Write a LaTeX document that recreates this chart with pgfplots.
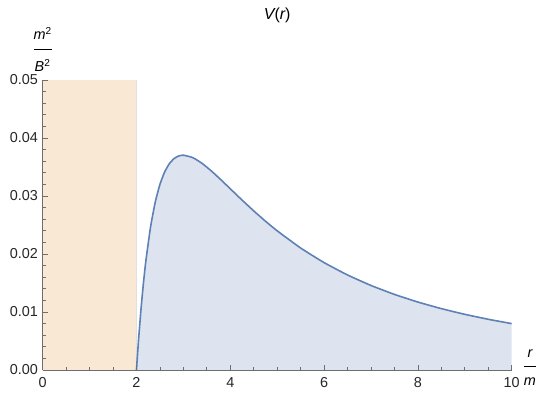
\documentclass[border=0pt]{standalone}
\usepackage{fontspec}
\setmainfont{Liberation Sans}
\usepackage{pgfplots}
\pgfplotsset{compat=1.18}
\definecolor{mline}{RGB}{94,129,181}
\definecolor{mfill}{RGB}{221,227,239}
\definecolor{mor}{RGB}{249,233,212}
\definecolor{maxis}{RGB}{110,110,110}
\begin{document}
\begin{tikzpicture}
\useasboundingbox (-32pt,-18pt) rectangle (373.75pt,277.5pt);
\begin{axis}[
  at={(0,0)}, anchor=south west,
  scale only axis, width=351.75pt, height=217.5pt,
  xmin=0, xmax=10, ymin=0, ymax=0.05,
  axis lines=left, axis line style={-, maxis, line width=0.6pt},
  axis on top,
  font=\fontsize{10.8}{12}\selectfont,
  tick label style={font=\fontsize{10.8}{12}\selectfont, color=black!85},
  /pgf/number format/assume math mode=true,
  xtick={0,2,4,6,8,10}, minor x tick num=3,
  ytick={0,0.01,0.02,0.03,0.04,0.05}, minor y tick num=4,
  yticklabel style={/pgf/number format/.cd, fixed, fixed zerofill, precision=2},
  xticklabel style={yshift=-2pt},
  scaled y ticks=false,
  tick align=inside, major tick length=3.75pt, minor tick length=2.2pt,
  tick style={maxis, line width=0.5pt},
  every axis title shift=0pt,
  title={\itshape V\upshape(\itshape r\upshape)},
  title style={at={(rel axis cs:0.5,1.207)}, anchor=base, inner sep=0pt, font=\fontsize{12}{14}\selectfont},
  xlabel={\begin{tabular}{@{}c@{}}\itshape r\\[3pt]\hline\rule{0pt}{14pt}\itshape m\end{tabular}},
  xlabel style={at={(rel axis cs:1.039,0.007)}, anchor=center, inner sep=0pt},
  ylabel={\begin{tabular}{@{}c@{}}\itshape m\upshape\textsuperscript{2}\\[3pt]\hline\rule{0pt}{17pt}\itshape B\upshape\textsuperscript{2}\end{tabular}},
  ylabel style={at={(rel axis cs:0,1.096)}, anchor=center, rotate=-90, inner sep=0pt},
  clip=false,
]
\addplot[fill=mor, draw=none] coordinates {(0,0) (0,0.05) (2,0.05) (2,0)} \closedcycle;
\addplot[draw=black!12, line width=0.6pt] coordinates {(2,0) (2,0.05)};
\addplot[fill=mfill, draw=none] coordinates {
(2,0) (2.01,0.001231) (2.02,0.002427) (2.05,0.005804) (2.1,0.010798) (2.15,0.015093)
(2.2,0.018783) (2.3,0.024657) (2.4,0.028935) (2.5,0.032) (2.6,0.034137) (2.7,0.035564)
(2.8,0.036443) (2.9,0.036902) (3.0,0.037037) (3.2,0.036621) (3.4,0.035620) (3.6,0.034294)
(3.8,0.032804) (4.0,0.03125) (4.25,0.029310) (4.5,0.027435) (4.75,0.025660) (5,0.024)
(5.5,0.021037) (6,0.018519) (6.5,0.016386) (7,0.014577) (7.5,0.013037) (8,0.011719)
(8.5,0.010584) (9,0.009602) (9.5,0.008748) (10,0.008)} \closedcycle;
\addplot[mline, line width=1.2pt, smooth, tension=0.3] coordinates {
(2,0) (2.01,0.001231) (2.02,0.002427) (2.05,0.005804) (2.1,0.010798) (2.15,0.015093)
(2.2,0.018783) (2.3,0.024657) (2.4,0.028935) (2.5,0.032) (2.6,0.034137) (2.7,0.035564)
(2.8,0.036443) (2.9,0.036902) (3.0,0.037037) (3.2,0.036621) (3.4,0.035620) (3.6,0.034294)
(3.8,0.032804) (4.0,0.03125) (4.25,0.029310) (4.5,0.027435) (4.75,0.025660) (5,0.024)
(5.5,0.021037) (6,0.018519) (6.5,0.016386) (7,0.014577) (7.5,0.013037) (8,0.011719)
(8.5,0.010584) (9,0.009602) (9.5,0.008748) (10,0.008)};
\end{axis}
\end{tikzpicture}
\end{document}
